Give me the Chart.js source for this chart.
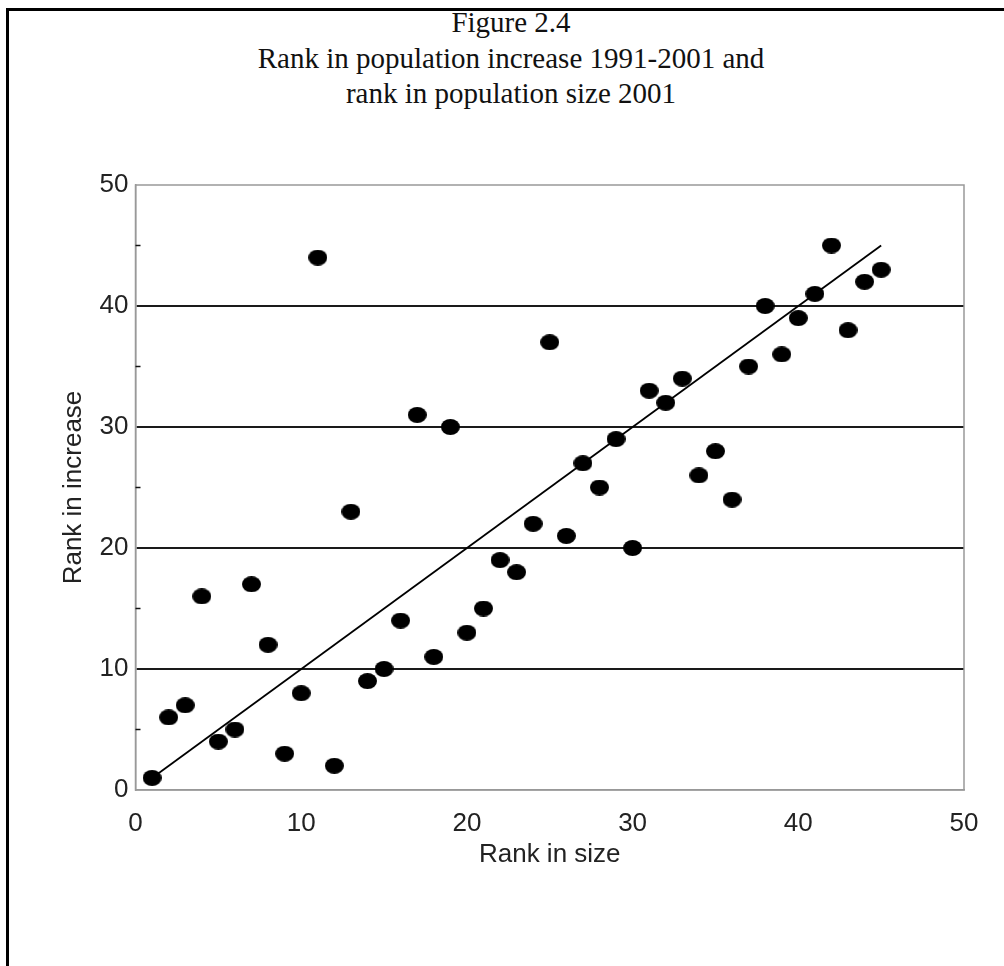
<!DOCTYPE html>
<html>
<head>
<meta charset="utf-8">
<script src="https://cdn.jsdelivr.net/npm/chart.js@4/dist/chart.umd.min.js"></script>
<style>
    html, body { margin: 0; padding: 0; background: #fff; overflow: hidden; }
    #page { position: relative; width: 1004px; height: 966px; }
    #frame { position: absolute; left: 6px; top: 8px; width: 1100px; height: 1100px;
             border-left: 3px solid #000; border-top: 3px solid #000; }
    #title { position: absolute; left: 0; top: 5px; width: 1022px; text-align: center;
             font-family: "Liberation Serif", "Times New Roman", serif; font-size: 29px;
             line-height: 35.5px; color: #111; }
    #chart { position: absolute; left: 0; top: 0; }
</style>
</head>
<body>
<div id="page">
    <div id="frame"></div>
    <div id="title">Figure 2.4<br>Rank in population increase 1991-2001 and<br>rank in population size 2001</div>
    <canvas id="chart" width="1004" height="966"></canvas>
</div>
<script>
// Rang i størrelse (x) og rang i økning (y)
const sizeRank = [1, 2, 3, 4, 5, 6, 7, 8, 9, 10, 11, 12, 13, 14, 15, 16, 17, 18, 19, 20, 21, 22, 23,
                  24, 25, 26, 27, 28, 29, 30, 31, 32, 33, 34, 35, 36, 37, 38, 39, 40, 41, 42, 43, 44, 45];
const increaseRank = [1, 6, 7, 16, 4, 5, 17, 12, 3, 8, 44, 2, 23, 9, 10, 14, 31, 11, 30, 13, 15, 19, 18,
                      22, 37, 21, 27, 25, 29, 20, 33, 32, 34, 26, 28, 24, 35, 40, 36, 39, 41, 45, 38, 42, 43];

// Trendlinje (start- og sluttpunkt)
const fitX = [1, 45];
const fitY = [1, 45];

// Akser
const axisMin = 0;
const axisMax = 50;
const majorStep = 10;
const minorTicks = [5, 15, 25, 35, 45];

// Litt ovale prikker som i originalen
function makeDot() {
    const c = document.createElement('canvas');
    c.width = 19;
    c.height = 16;
    const g = c.getContext('2d');
    g.fillStyle = '#000';
    g.beginPath();
    g.ellipse(9.5, 8, 9.5, 8, 0, 0, Math.PI * 2);
    g.fill();
    return c;
}

// Grå ramme rundt plottet og små merker ved 5, 15, ...
const frameAndMinorTicks = {
    id: 'frameAndMinorTicks',
    afterDatasetsDraw(chart) {
        const { ctx, chartArea: a, scales } = chart;
        ctx.save();
        ctx.strokeStyle = '#999';
        ctx.lineWidth = 1.5;
        ctx.strokeRect(a.left, a.top, a.right - a.left, a.bottom - a.top);
        ctx.strokeStyle = '#111';
        ctx.lineWidth = 1.5;
        minorTicks.forEach(v => {
            const y = scales.y.getPixelForValue(v);
            ctx.beginPath();
            ctx.moveTo(a.left, y);
            ctx.lineTo(a.left + 5, y);
            ctx.stroke();
        });
        ctx.restore();
    }
};

const sansFont = { family: '"Liberation Sans", Arial, sans-serif', size: 26 };

new Chart(document.getElementById('chart').getContext('2d'), {
    type: 'scatter',
    data: {
        datasets: [
            {
                type: 'scatter',
                data: sizeRank.map((x, i) => ({ x: x, y: increaseRank[i] })),
                pointStyle: makeDot(),
                pointRadius: 9,
                backgroundColor: '#000',
                borderColor: '#000'
            },
            {
                type: 'line',
                data: fitX.map((x, i) => ({ x: x, y: fitY[i] })),
                borderColor: '#000',
                borderWidth: 1.8,
                pointRadius: 0,
                fill: false
            }
        ]
    },
    options: {
        responsive: false,
        animation: false,
        layout: { padding: { left: 58, right: 40, top: 185, bottom: 96 } },
        plugins: {
            legend: { display: false },
            tooltip: { enabled: false }
        },
        scales: {
            x: {
                type: 'linear',
                min: axisMin,
                max: axisMax,
                afterFit: s => { s.height = 80; },
                ticks: { stepSize: majorStep, padding: 18, color: '#222', font: sansFont, maxRotation: 0 },
                grid: { display: false, drawTicks: false },
                border: { display: true, color: '#999', width: 1.5 },
                title: { display: true, text: 'Rank in size', color: '#222', font: sansFont, padding: 0 }
            },
            y: {
                type: 'linear',
                min: axisMin,
                max: axisMax,
                afterFit: s => { s.width = 77.5; },
                ticks: {
                    stepSize: 5,
                    padding: 7,
                    color: '#222',
                    font: sansFont,
                    callback: v => (v % majorStep === 0 ? v : '')
                },
                grid: {
                    drawTicks: false,
                    lineWidth: 2,
                    color: ctx => {
                        const v = ctx.tick.value;
                        return (v % majorStep === 0 && v > axisMin && v < axisMax) ? '#1a1a1a' : 'rgba(0,0,0,0)';
                    }
                },
                border: { display: true, color: '#999', width: 1.5 },
                title: { display: true, text: 'Rank in increase', color: '#222', font: sansFont, padding: 0 }
            }
        }
    },
    plugins: [frameAndMinorTicks]
});
</script>
</body>
</html>
